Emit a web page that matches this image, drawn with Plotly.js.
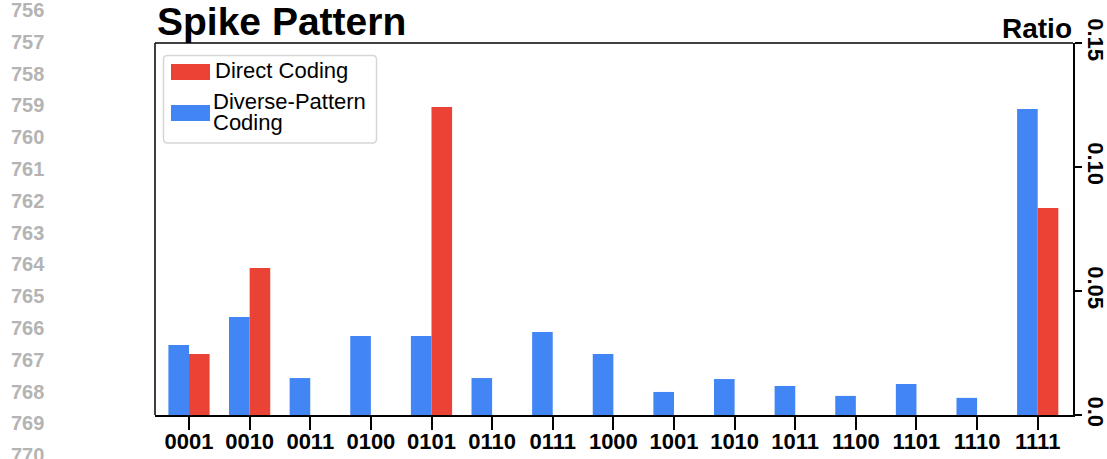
<!DOCTYPE html>
<html>
<head>
<meta charset="utf-8">
<script src="https://cdn.plot.ly/plotly-3.0.1.min.js"></script>
<style>html,body{margin:0;padding:0;background:#fff;}#chart{width:1107px;height:459px;}</style>
</head>
<body>
<div id="chart"></div>
<script>
// ---- data ----
const categories = ["0001","0010","0011","0100","0101","0110","0111","1000","1001","1010","1011","1100","1101","1110","1111"];
const diversePattern = [0.0282,0.0395,0.0149,0.0319,0.0319,0.0149,0.0335,0.0246,0.0093,0.0145,0.0117,0.0077,0.0125,0.0069,0.1234];
const directCoding   = [0.0246,0.0593,0,0,0.1242,0,0,0,0,0,0,0,0,0,0.0835];
const yTickVals = [0, 0.05, 0.10, 0.15];
const yTickText = ["0.0", "0.05", "0.10", "0.15"];
const lineNumbers = [756,757,758,759,760,761,762,763,764,765,766,767,768,769,770];

const RED = "#EA4335", BLUE = "#4285F4";
const FONT = "Arial, 'Liberation Sans', Helvetica, sans-serif";

// geometry helpers (plot area 155..1073 x, 43..415 y)
const L = 155, R = 1073, T = 43, B = 415;
const px = x => (x - L) / (R - L);
const py = y => (B - y) / (B - T);

const traces = [
  {type: "bar", name: "Diverse-Pattern<br>Coding", x: categories, y: diversePattern,
   marker: {color: BLUE, line: {width: 0}}, showlegend: false, hoverinfo: "x+y"},
  {type: "bar", name: "Direct Coding", x: categories, y: directCoding,
   marker: {color: RED, line: {width: 0}}, showlegend: false, hoverinfo: "x+y"}
];

const annotations = [];
// title
annotations.push({xref: "paper", yref: "paper", x: px(155), y: py(21.5), xanchor: "left", yanchor: "middle",
  text: "<b>Spike Pattern</b>", showarrow: false, font: {family: FONT, size: 39, color: "#000"}});
// axis title "Ratio"
annotations.push({xref: "paper", yref: "paper", x: px(1074), y: py(28.5), xanchor: "right", yanchor: "middle",
  text: "<b>Ratio</b>", showarrow: false, font: {family: FONT, size: 28, color: "#000"}});
// legend texts
annotations.push({xref: "paper", yref: "paper", x: px(213), y: py(70.5), xanchor: "left", yanchor: "middle",
  text: "Direct Coding", showarrow: false, font: {family: FONT, size: 22, color: "#000"}});
annotations.push({xref: "paper", yref: "paper", x: px(211), y: py(102), xanchor: "left", yanchor: "middle",
  text: "Diverse-Pattern", showarrow: false, font: {family: FONT, size: 22, color: "#000"}});
annotations.push({xref: "paper", yref: "paper", x: px(211), y: py(122), xanchor: "left", yanchor: "middle",
  text: "Coding", showarrow: false, font: {family: FONT, size: 22, color: "#000"}});
// line numbers (margin of source page)
lineNumbers.forEach((n, i) => {
  annotations.push({xref: "paper", yref: "paper", x: px(9), y: py(10 + i * 31.8), xanchor: "left", yanchor: "middle",
    text: "<b>" + n + "</b>", showarrow: false, font: {family: FONT, size: 20, color: "#b4b4b4"}});
});

// rounded legend box
function roundRect(x0, y0, x1, y1, r) {
  const rx = r / (R - L), ry = r / (B - T);
  const X0 = px(x0), X1 = px(x1), Y0 = py(y0), Y1 = py(y1);
  return `M ${X0 + rx},${Y0} L ${X1 - rx},${Y0} Q ${X1},${Y0} ${X1},${Y0 - ry} ` +
         `L ${X1},${Y1 + ry} Q ${X1},${Y1} ${X1 - rx},${Y1} L ${X0 + rx},${Y1} ` +
         `Q ${X0},${Y1} ${X0},${Y1 + ry} L ${X0},${Y0 - ry} Q ${X0},${Y0} ${X0 + rx},${Y0} Z`;
}

const shapes = [
  {type: "line", xref: "paper", yref: "paper", x0: 0, x1: 1, y0: 1, y1: 1, line: {color: "#000", width: 1.5}},
  {type: "line", xref: "paper", yref: "paper", x0: 0, x1: 0, y0: 0, y1: 1, line: {color: "#000", width: 1.5}},
  {type: "path", xref: "paper", yref: "paper", path: roundRect(163.5, 55.5, 376.5, 143, 4),
   line: {color: "#d6d6d6", width: 1.5}, fillcolor: "rgba(255,255,255,0.9)"},
  {type: "rect", xref: "paper", yref: "paper", x0: px(171), x1: px(210), y0: py(64), y1: py(80),
   line: {width: 0}, fillcolor: RED},
  {type: "rect", xref: "paper", yref: "paper", x0: px(171), x1: px(210), y0: py(105), y1: py(121),
   line: {width: 0}, fillcolor: BLUE}
];

const layout = {
  width: 1107, height: 459,
  margin: {l: L, r: 1107 - R, t: T, b: 459 - B, pad: 0},
  paper_bgcolor: "#fff", plot_bgcolor: "#fff",
  barmode: "group", bargap: 0.32, bargroupgap: 0,
  showlegend: false,
  font: {family: FONT, color: "#000"},
  xaxis: {
    type: "category", range: [-0.561, 14.582], fixedrange: true,
    showline: true, linecolor: "#000", linewidth: 2, showgrid: false, zeroline: false,
    ticks: "outside", ticklen: 13, tickwidth: 2, tickcolor: "#000",
    ticklabelstandoff: -7,
    tickfont: {family: FONT, size: 22, color: "#000", weight: "bold"},
    automargin: false
  },
  yaxis: {
    side: "right", range: [0, 0.15], fixedrange: true,
    showline: true, linecolor: "#000", linewidth: 2, showgrid: false, zeroline: false,
    ticks: "outside", ticklen: 7, tickwidth: 2, tickcolor: "#000",
    tickvals: yTickVals, ticktext: yTickText, tickangle: 90,
    ticklabelstandoff: -3,
    tickfont: {family: FONT, size: 22, color: "#000", weight: "bold"},
    automargin: false
  },
  shapes: shapes,
  annotations: annotations
};

Plotly.newPlot("chart", traces, layout, {displayModeBar: false, staticPlot: true});
</script>
</body>
</html>
